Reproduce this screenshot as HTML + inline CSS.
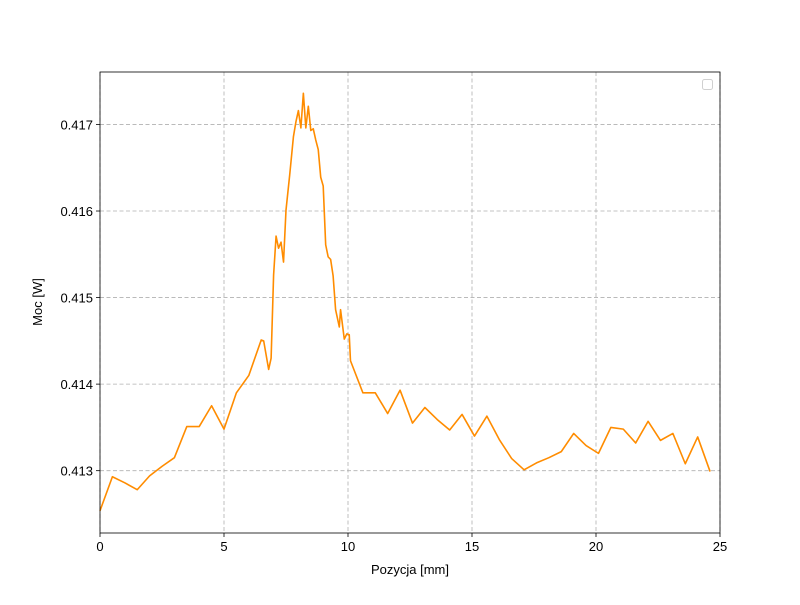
<!DOCTYPE html>
<html><head><meta charset="utf-8"><style>
body{margin:0;background:#fff}
svg text{font-family:"Liberation Sans","DejaVu Sans",sans-serif;font-size:13px;fill:#000}
</style></head><body>
<svg id="chart" width="800" height="600"></svg>
<script>
const xs=[0,0.5,1,1.5,2,2.5,3,3.5,4,4.5,5,5.5,6,6.5,6.6,6.8,6.9,7.0,7.1,7.2,7.3,7.4,7.5,7.65,7.8,7.9,8.0,8.1,8.2,8.3,8.4,8.5,8.6,8.7,8.8,8.9,9.0,9.1,9.2,9.3,9.4,9.5,9.65,9.7,9.85,9.95,10.05,10.1,10.6,11.1,11.6,12.1,12.6,13.1,13.6,14.1,14.6,15.1,15.6,16.1,16.6,17.1,17.6,18.1,18.6,19.1,19.6,20.1,20.6,21.1,21.6,22.1,22.6,23.1,23.6,24.1,24.6];
const ys=[0.412537,0.41293,0.41286,0.41278,0.41294,0.41305,0.41315,0.41351,0.41351,0.41375,0.41348,0.41390,0.41410,0.41451,0.41450,0.41417,0.41430,0.41526,0.41571,0.41557,0.41564,0.41541,0.41601,0.41642,0.41686,0.41703,0.41716,0.41696,0.41736,0.41696,0.41721,0.41693,0.41695,0.41682,0.41671,0.41639,0.41629,0.41561,0.41547,0.41544,0.41525,0.41486,0.41466,0.41486,0.41452,0.41458,0.41457,0.41427,0.41390,0.41390,0.41366,0.41393,0.41355,0.41373,0.41359,0.41347,0.41365,0.41340,0.41363,0.41336,0.41314,0.41301,0.41309,0.41315,0.41322,0.41343,0.41329,0.41320,0.41350,0.41348,0.41332,0.41357,0.41335,0.41343,0.41308,0.41339,0.41299];
const xTicks=[0,5,10,15,20,25];
const yTicks=[0.413,0.414,0.415,0.416,0.417];
const L=100,R=720,T=72,B=533;
const xMin=0,xMax=25,yMin=0.41228,yMax=0.417606;
const sx=v=>L+(v-xMin)/(xMax-xMin)*(R-L);
const sy=v=>B-(v-yMin)/(yMax-yMin)*(B-T);
const svg=document.getElementById('chart');
const NS='http://www.w3.org/2000/svg';
function mk(t,a,p){const e=document.createElementNS(NS,t);for(const k in a)e.setAttribute(k,a[k]);(p||svg).appendChild(e);return e;}
xTicks.forEach(v=>{
 const x=sx(v);
 const g=mk('line',{x1:x,x2:x,y1:T,y2:B,stroke:'#b0b0b0','stroke-dasharray':'4,2.5','stroke-width':0.8});
 
 
 mk('line',{x1:x,x2:x,y1:B,y2:B+4,stroke:'#000','stroke-width':0.8});
 const t=mk('text',{x:x,y:B+18,'text-anchor':'middle'});t.textContent=v;
 
 
});
yTicks.forEach(v=>{
 const y=sy(v);
 const g=mk('line',{x1:L,x2:R,y1:y,y2:y,stroke:'#b0b0b0','stroke-dasharray':'4,2.5','stroke-width':0.8});
 
 
 mk('line',{x1:L-4,x2:L,y1:y,y2:y,stroke:'#000','stroke-width':0.8});
 const t=mk('text',{x:L-7,y:y+5,'text-anchor':'end'});t.textContent=v.toFixed(3);
 
 
});
const line=mk('polyline',{points:xs.map((x,i)=>sx(x)+','+sy(ys[i])).join(' '),fill:'none',stroke:'#ff8c00','stroke-width':1.6,'stroke-linejoin':'round'});


const fr=mk('rect',{x:L,y:T,width:R-L,height:B-T,fill:'none',stroke:'#000','stroke-width':0.8});


const lg=mk('rect',{x:702.5,y:79.5,width:10,height:10,rx:2,fill:'#fff',stroke:'#d0d0d0','stroke-width':1});


const xl=mk('text',{x:410,y:574,'text-anchor':'middle'});xl.textContent='Pozycja [mm]';


const yl=mk('text',{x:42,y:302,'text-anchor':'middle',transform:'rotate(-90 42 302)'});yl.textContent='Moc [W]';


</script>
</body></html>
